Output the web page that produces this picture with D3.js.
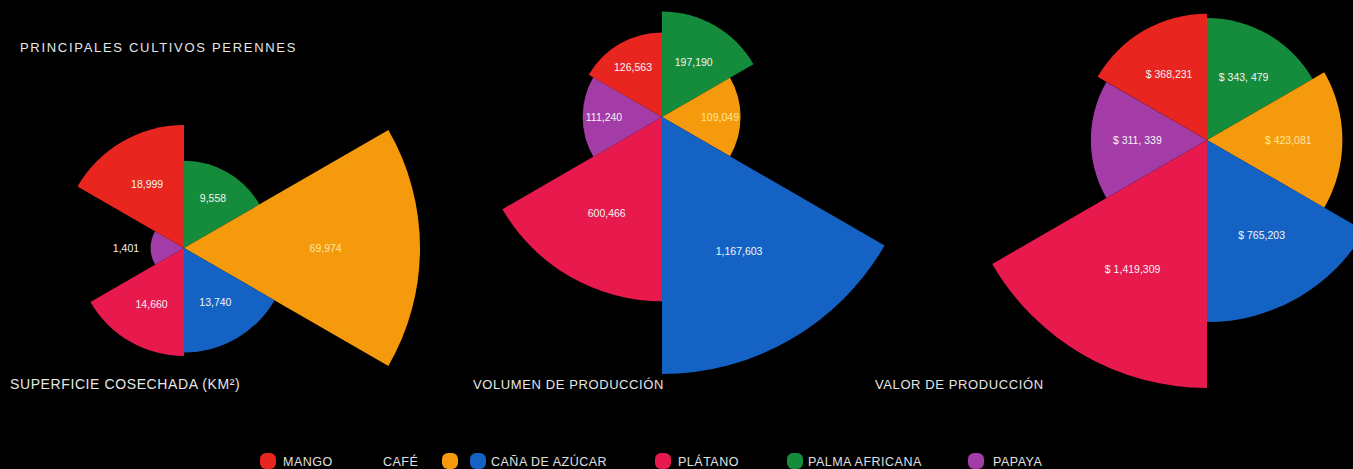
<!DOCTYPE html>
<html><head><meta charset="utf-8">
<script src="https://cdn.jsdelivr.net/npm/d3@7"></script>
<style>
html,body{margin:0;padding:0;background:#000;}
svg{display:block;font-family:"Liberation Sans",Arial,sans-serif;}
</style></head>
<body>
<svg id="chart" width="1353" height="469"></svg>
<script>
// Sectors clockwise from 12 o'clock
const crops = ["PALMA AFRICANA", "CAFÉ", "CAÑA DE AZÚCAR", "PLÁTANO", "PAPAYA", "MANGO"];
const cropColors = ["#158c3b", "#f59a0c", "#1463c4", "#e8194d", "#a43ca8", "#e8251f"];
const superficie = [9558, 69974, 13740, 14660, 1401, 18999];
const volumen = [197190, 109049, 1167603, 600466, 111240, 126563];
const valor = [343479, 423081, 765203, 1419309, 311339, 368231];
const superficieLabels = ["9,558", "69,974", "13,740", "14,660", "1,401", "18,999"];
const volumenLabels = ["197,190", "109,049", "1,167,603", "600,466", "111,240", "126,563"];
const valorLabels = ["$ 343, 479", "$ 423,081", "$ 765,203", "$ 1,419,309", "$ 311, 339", "$ 368,231"];
const chartTitles = ["SUPERFICIE COSECHADA (KM²)", "VOLUMEN DE PRODUCCIÓN", "VALOR DE PRODUCCIÓN"];
const mainTitle = "PRINCIPALES CULTIVOS PERENNES";
const legendOrder = ["MANGO", "CAFÉ", "CAÑA DE AZÚCAR", "PLÁTANO", "PALMA AFRICANA", "PAPAYA"];

const svg = d3.select("#chart");
svg.append("rect").attr("width", 1353).attr("height", 469).attr("fill", "#000");

// layout
const charts = [
  {values: superficie, labels: superficieLabels, cx: 184, cy: 248, rMax: 236, title: chartTitles[0], tx: 10, fs: 14},
  {values: volumen, labels: volumenLabels, cx: 662, cy: 117, rMax: 257, title: chartTitles[1], tx: 473, fs: 13},
  {values: valor, labels: valorLabels, cx: 1207, cy: 140, rMax: 248, title: chartTitles[2], tx: 875, fs: 13}
];
const step = 2 * Math.PI / crops.length;
const arc = d3.arc().innerRadius(0);

charts.forEach(c => {
  const r = d3.scaleSqrt().domain([0, d3.max(c.values)]).range([0, c.rMax]);
  const g = svg.append("g").attr("transform", `translate(${c.cx},${c.cy})`);
  const data = c.values.map((v, i) => ({v, i, label: c.labels[i],
    startAngle: i * step, endAngle: (i + 1) * step, outerRadius: r(v)}));
  g.selectAll("path").data(data).join("path")
    .attr("d", d => arc(d))
    .attr("fill", d => cropColors[d.i]);
  g.selectAll("text").data(data).join("text")
    .attr("transform", d => {
      const a = (d.startAngle + d.endAngle) / 2;
      const dist = Math.max(0.6 * d.outerRadius, 58);
      return `translate(${dist * Math.sin(a)},${-dist * Math.cos(a) + 4})`;
    })
    .attr("text-anchor", "middle")
    .attr("font-size", 10.5)
    .attr("fill", d => d.i === 1 ? "#ffe7a0" : "#f4f4f4")
    .text(d => d.label);
  svg.append("text").attr("x", c.tx).attr("y", 389)
    .attr("font-size", c.fs).attr("letter-spacing", 0.6)
    .attr("fill", "#e6e6e6").text(c.title);
});

svg.append("text").attr("x", 20).attr("y", 52)
  .attr("font-size", 13).attr("letter-spacing", 1.7)
  .attr("fill", "#e6e6e6").text(mainTitle);

// legend
const legendItems = [
  {name: "MANGO", dot: 268, text: 283},
  {name: "CAFÉ", dot: 450, text: 383},
  {name: "CAÑA DE AZÚCAR", dot: 478, text: 491},
  {name: "PLÁTANO", dot: 663, text: 678},
  {name: "PALMA AFRICANA", dot: 795, text: 808},
  {name: "PAPAYA", dot: 976, text: 993}
];
const lg = svg.append("g");
legendItems.forEach(it => {
  const ci = crops.indexOf(it.name);
  lg.append("rect").attr("x", it.dot - 8).attr("y", 453).attr("width", 16).attr("height", 16)
    .attr("rx", 6).attr("fill", cropColors[ci]);
  lg.append("text").attr("x", it.text).attr("y", 466).attr("font-size", 12.5)
    .attr("letter-spacing", 0.5).attr("fill", "#e0e0e0").text(it.name);
});
</script>
</body></html>
